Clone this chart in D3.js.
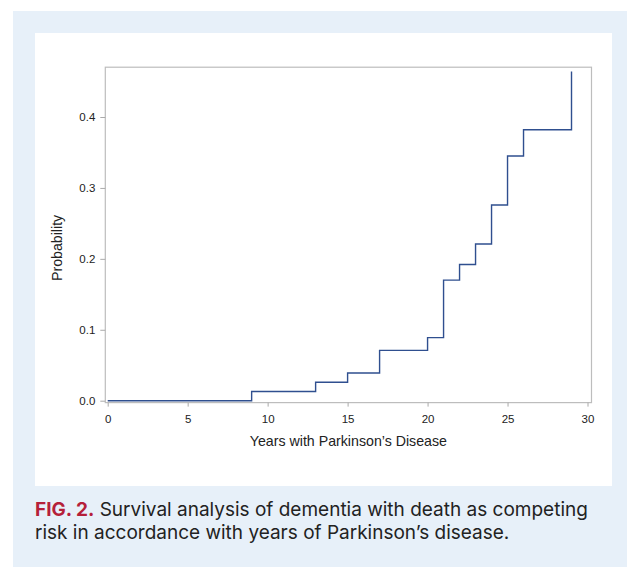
<!DOCTYPE html>
<html>
<head>
<meta charset="utf-8">
<script src="https://cdn.jsdelivr.net/npm/d3@7"></script>
<style>
  html, body { margin: 0; padding: 0; background: #fff; }
  svg { display: block; }
</style>
</head>
<body>
<svg id="chart"></svg>
<script>
// step times (years) and cumulative incidence after each step
const years = [0, 9, 13, 15, 17, 20, 21, 22, 23, 24, 25, 26, 29];
const probs = [0, 0.013, 0.026, 0.039, 0.071, 0.089, 0.170, 0.192, 0.221, 0.276, 0.345, 0.382, 0.464];
const xTicks = [0, 5, 10, 15, 20, 25, 30];
const yTicks = [0, 0.1, 0.2, 0.3, 0.4];
const xTitle = "Years with Parkinson\u2019s Disease";
const yTitle = "Probability";
const captionLines = [
  ["FIG. 2.", " Survival analysis of dementia with death as competing"],
  ["", "risk in accordance with years of Parkinson\u2019s disease."]
];

const W = 627, H = 567;
const svg = d3.select("#chart").attr("width", W).attr("height", H);

// page panels
svg.append("rect").attr("x", 13).attr("y", 11).attr("width", W - 13).attr("height", H - 11)
  .attr("fill", "#e7f0f9");
svg.append("rect").attr("x", 35).attr("y", 33).attr("width", 577).attr("height", 453)
  .attr("fill", "#fff");

const x = d3.scaleLinear().domain([0, 30]).range([107.7, 587.5]);
const y = d3.scaleLinear().domain([0, 0.4]).range([400.7, 117]);

// plot frame (R-style box with small padding)
const x0 = x(-0.15), x1 = x(30.25), y0 = y(-0.0027), y1 = y(0.4702);
svg.append("rect")
  .attr("x", x0).attr("y", y1).attr("width", x1 - x0).attr("height", y0 - y1)
  .attr("fill", "none").attr("stroke", "#bdbdbd").attr("stroke-width", 1.2);

const xAxis = svg.append("g")
  .attr("transform", `translate(0,${y0})`)
  .call(d3.axisBottom(x).tickValues(xTicks).tickSize(4).tickPadding(8).tickFormat(d3.format("d")));
const yAxis = svg.append("g")
  .attr("transform", `translate(${x0},0)`)
  .call(d3.axisLeft(y).tickValues(yTicks).tickSize(5).tickPadding(5).tickFormat(d3.format(".1f")));

[xAxis, yAxis].forEach(a => {
  a.select(".domain").remove();
  a.selectAll(".tick line").attr("stroke", "#aaa");
  a.selectAll(".tick text").attr("fill", "#222")
    .style("font-family", "'Liberation Sans', Arial, sans-serif").style("font-size", "11.5px");
});

svg.append("text")
  .attr("x", (x0 + x1) / 2).attr("y", 446)
  .attr("text-anchor", "middle").attr("fill", "#222")
  .style("font-family", "'Liberation Sans', Arial, sans-serif").style("font-size", "14.2px")
  .text(xTitle);
svg.append("text")
  .attr("transform", `translate(62,${(y0 + y1) / 2 + 13}) rotate(-90)`)
  .attr("text-anchor", "middle").attr("fill", "#222")
  .style("font-family", "'Liberation Sans', Arial, sans-serif").style("font-size", "14.2px")
  .text(yTitle);

// step curve
const pts = years.map((t, i) => [t, probs[i]]);
const line = d3.line().x(d => x(d[0])).y(d => y(d[1])).curve(d3.curveStepAfter);
svg.append("path")
  .datum(pts)
  .attr("d", line)
  .attr("fill", "none").attr("stroke", "#2f4f8f").attr("stroke-width", 1.4);

// caption
const cap = svg.append("g")
  .style("font-family", "Inter, Roboto, sans-serif").style("font-size", "19px");
captionLines.forEach((ln, i) => {
  const t = cap.append("text").attr("x", 35).attr("y", 516 + i * 22.5).attr("fill", "#222");
  if (ln[0]) t.append("tspan").attr("fill", "#b5203a").attr("font-weight", "bold").text(ln[0]);
  t.append("tspan").text(ln[1]);
});
</script>
</body>
</html>
